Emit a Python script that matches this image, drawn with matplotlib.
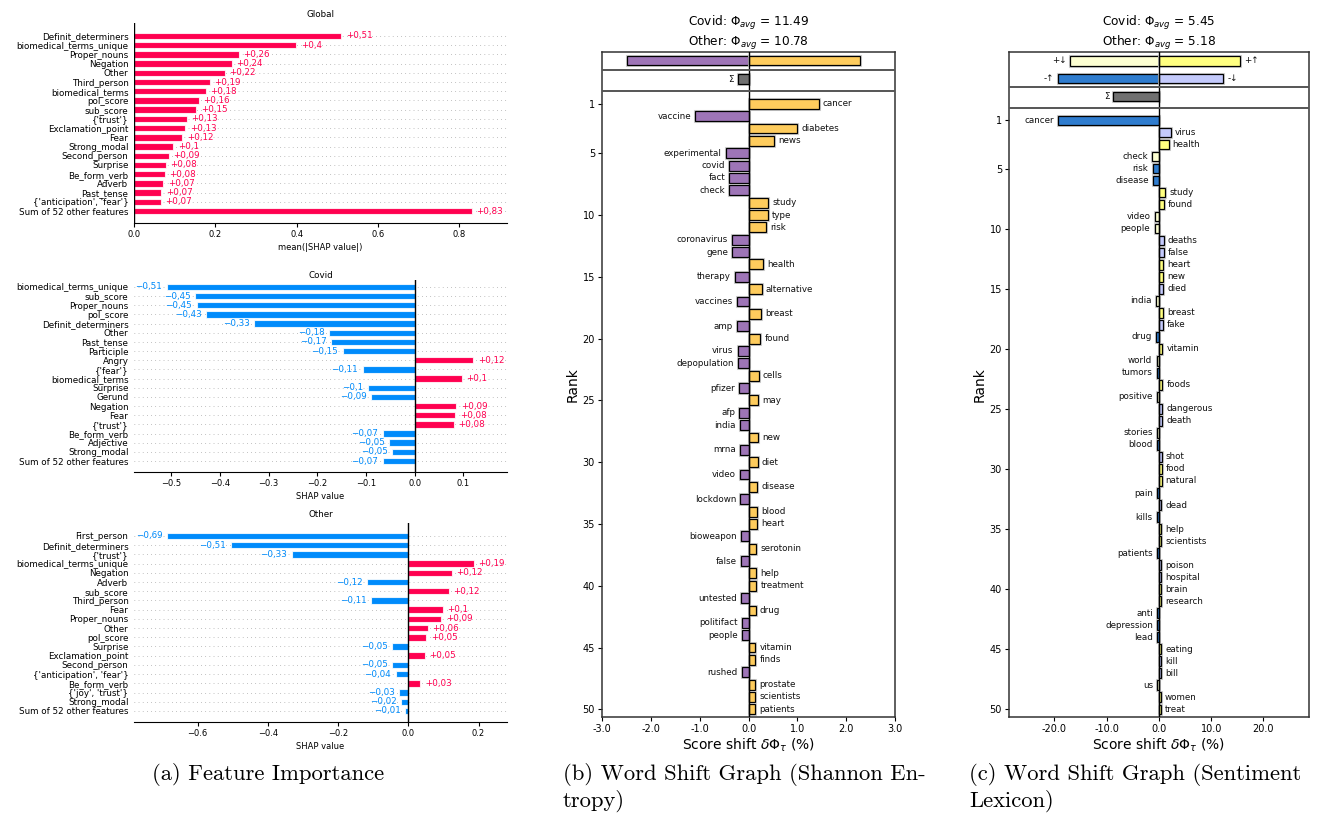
import matplotlib
matplotlib.use('Agg')
import matplotlib.pyplot as plt
import matplotlib.patheffects as pe
import numpy as np

plt.rcParams['font.family'] = ['DejaVu Sans']

W, H = 1322, 814
fig = plt.figure(figsize=(W / 100, H / 100), dpi=100)

# ---------------- data: panel (a) SHAP ----------------
global_features = ["Definit_determiners", "biomedical_terms_unique", "Proper_nouns", "Negation", "Other",
                   "Third_person", "biomedical_terms", "pol_score", "sub_score", "{'trust'}",
                   "Exclamation_point", "Fear", "Strong_modal", "Second_person", "Surprise",
                   "Be_form_verb", "Adverb", "Past_tense", "{'anticipation', 'fear'}",
                   "Sum of 52 other features"]
global_values = [0.510, 0.399, 0.258, 0.240, 0.223, 0.187, 0.176, 0.159, 0.153, 0.130,
                 0.126, 0.119, 0.097, 0.086, 0.078, 0.076, 0.072, 0.067, 0.066, 0.830]

covid_features = ["biomedical_terms_unique", "sub_score", "Proper_nouns", "pol_score", "Definit_determiners",
                  "Other", "Past_tense", "Participle", "Angry", "{'fear'}", "biomedical_terms", "Surprise",
                  "Gerund", "Negation", "Fear", "{'trust'}", "Be_form_verb", "Adjective", "Strong_modal",
                  "Sum of 52 other features"]
covid_values = [-0.510, -0.452, -0.448, -0.428, -0.330, -0.176, -0.171, -0.148, 0.121, -0.107,
                0.097, -0.096, -0.090, 0.086, 0.084, 0.080, -0.066, -0.052, -0.046, -0.066]

other_features = ["First_person", "Definit_determiners", "{'trust'}", "biomedical_terms_unique", "Negation",
                  "Adverb", "sub_score", "Third_person", "Fear", "Proper_nouns", "Other", "pol_score",
                  "Surprise", "Exclamation_point", "Second_person", "{'anticipation', 'fear'}",
                  "Be_form_verb", "{'joy', 'trust'}", "Strong_modal", "Sum of 52 other features"]
other_values = [-0.687, -0.506, -0.332, 0.187, 0.124, -0.118, 0.116, -0.107, 0.098, 0.094,
                0.056, 0.051, -0.046, 0.048, -0.046, -0.036, 0.034, -0.026, -0.020, -0.009]

# ---------------- data: panel (b) entropy word shift ----------------
entropy_words = ["cancer", "vaccine", "diabetes", "news", "experimental", "covid", "fact", "check", "study",
                 "type", "risk", "coronavirus", "gene", "health", "therapy", "alternative", "vaccines",
                 "breast", "amp", "found", "virus", "depopulation", "cells", "pfizer", "may", "afp", "india",
                 "new", "mrna", "diet", "video", "disease", "lockdown", "blood", "heart", "bioweapon",
                 "serotonin", "false", "help", "treatment", "untested", "drug", "politifact", "people",
                 "vitamin", "finds", "rushed", "prostate", "scientists", "patients"]
entropy_shifts = [1.44, -1.09, 0.99, 0.52, -0.46, -0.40, -0.39, -0.39, 0.40, 0.39, 0.35, -0.33, -0.33,
                  0.30, -0.27, 0.27, -0.24, 0.26, -0.24, 0.24, -0.22, -0.22, 0.21, -0.20, 0.20, -0.19,
                  -0.18, 0.19, -0.18, 0.19, -0.18, 0.18, -0.17, 0.17, 0.17, -0.16, 0.16, -0.16, 0.16,
                  0.16, -0.15, 0.15, -0.14, -0.14, 0.14, 0.14, -0.14, 0.14, 0.14, 0.14]
entropy_totals = [-2.49, 2.28]
entropy_sigma = -0.22
entropy_title = "Covid: $\\Phi_{avg}$ = 11.49\nOther: $\\Phi_{avg}$ = 10.78"

# ---------------- data: panel (c) sentiment word shift ----------------
sent_words = ["cancer", "virus", "health", "check", "risk", "disease", "study", "found", "video", "people",
              "deaths", "false", "heart", "new", "died", "india", "breast", "fake", "drug", "vitamin",
              "world", "tumors", "foods", "positive", "dangerous", "death", "stories", "blood", "shot",
              "food", "natural", "pain", "dead", "kills", "help", "scientists", "patients", "poison",
              "hospital", "brain", "research", "anti", "depression", "lead", "eating", "kill", "bill",
              "us", "women", "treat"]
sent_shifts = [-19.3, 2.23, 1.85, -1.34, -1.21, -1.15, 1.15, 0.89, -0.83, -0.83,
               0.89, 0.89, 0.83, 0.83, 0.83, -0.64, 0.77, 0.70, -0.51, 0.64,
               -0.45, -0.45, 0.64, -0.45, 0.64, 0.57, -0.38, -0.38, 0.51, 0.51,
               0.51, -0.38, 0.45, -0.38, 0.45, 0.45, -0.32, 0.45, 0.45, 0.45,
               0.45, -0.32, -0.32, -0.32, 0.38, 0.38, 0.38, -0.32, 0.38, 0.38]
sent_types = ["nu", "nd", "pu", "pd", "nu", "nu", "pu", "pu", "pd", "pd",
              "nd", "nd", "pu", "pu", "nd", "pd", "pu", "nd", "nu", "pu",
              "pd", "nu", "pu", "pd", "nd", "nd", "pd", "nu", "nd", "pu",
              "pu", "nu", "nd", "nu", "pu", "pu", "nu", "nd", "nd", "pu",
              "pu", "nu", "nu", "nu", "pu", "nd", "nd", "pd", "pu", "pu"]
sent_total_labels = ["+\u2193", "+\u2191", "-\u2191", "-\u2193"]
sent_total_types = ["pd", "pu", "nu", "nd"]
sent_total_values = [-16.9, 15.5, -19.3, 12.25]
sent_sigma = -8.68
sent_title = "Covid: $\\Phi_{avg}$ = 5.45\nOther: $\\Phi_{avg}$ = 5.18"

captions = ["(a) Feature Importance", "(b) Word Shift Graph (Shannon En-", "tropy)",
            "(c) Word Shift Graph (Sentiment", "Lexicon)"]

# ---------------- styles ----------------
RED = (1.0, 0.0, 0.3137)
BLUE = (0.0, 0.5451, 0.9843)
PURPLE = "#9E75B7"
YELLOW = "#FECC5D"
SENT_COL = {"pu": "#FFFF80", "pd": "#FDFFD2", "nu": "#2F7CCE", "nd": "#C4CAFC"}
GRAY = "#707070"
HALO = [pe.Stroke(linewidth=2.2, foreground="#cfcfcf"), pe.Normal()]


def px_axes(l, t, r, b):
    return fig.add_axes([l / W, 1 - b / H, (r - l) / W, (b - t) / H])


def fmt(v):
    s = f"{abs(v):.2f}".rstrip('0').rstrip('.').replace('.', ',')
    return ('+' if v >= 0 else '\u2212') + s


def shap_panel(ax, feats, vals, title, xlim, ylim, xticks, xlabel, fs=6.35):
    pos = np.arange(len(feats))
    for p in pos:
        ax.axhline(p, color="#888888", lw=0.5, dashes=(1, 5), zorder=-1)
    cols = [RED if v >= 0 else BLUE for v in vals]
    ax.barh(pos, vals, height=0.7, color=cols, edgecolor=(1, 1, 1, 0.8), lw=0.8, zorder=2)
    ax.axvline(0, color="black", lw=1, zorder=3)
    for p, v in zip(pos, vals):
        pos_side = v >= 0
        ax.annotate(fmt(v), xy=(v, p), xytext=(3.2 if pos_side else -3.2, 0), textcoords="offset points",
                    ha="left" if pos_side else "right", va="center", fontsize=fs,
                    color=RED if pos_side else BLUE)
    ax.set_yticks(pos)
    ax.set_yticklabels(feats, fontsize=fs)
    ax.tick_params(axis="y", length=0, pad=4)
    ax.set_xlim(*xlim)
    ax.set_ylim(*ylim)
    ax.set_xticks(xticks)
    ax.tick_params(axis="x", labelsize=6.0, length=3, width=0.8, pad=2)
    ax.set_xlabel(xlabel, fontsize=6.0, labelpad=3)
    ax.set_title(title, fontsize=fs, pad=4)
    for s in ["top", "right", "left"]:
        ax.spines[s].set_visible(False)
    ax.spines["bottom"].set_linewidth(0.8)


ax1 = px_axes(134, 23, 507, 223)
shap_panel(ax1, global_features, global_values, "Global", (0, 0.917), (20.3, -1.41),
           [0.0, 0.2, 0.4, 0.6, 0.8], "mean(|SHAP value|)")
ax2 = px_axes(134, 280, 507, 472)
shap_panel(ax2, covid_features, covid_values, "Covid", (-0.577, 0.19), (20.2, -0.76),
           [-0.5, -0.4, -0.3, -0.2, -0.1, 0.0, 0.1], "SHAP value")
ax2.title.set_position((0.5, 1.0))
ax2.set_title("Covid", fontsize=6.35, pad=1)
ax3 = px_axes(134, 523, 507, 722)
shap_panel(ax3, other_features, other_values, "Other", (-0.781, 0.281), (20.2, -1.41),
           [-0.6, -0.4, -0.2, 0.0, 0.2], "SHAP value")


def shift_frame(ax, xlim, ylim, xticks, xticklabels, title):
    ax.set_xlim(*xlim)
    ax.set_ylim(*ylim)
    ax.axvline(0, color="black", lw=1, zorder=3)
    ax.axhline(-1.75, color="#555555", lw=1.4, zorder=4)
    ax.axhline(0.0, color="#555555", lw=1.4, zorder=4)
    ax.set_yticks([1, 5, 10, 15, 20, 25, 30, 35, 40, 45, 50])
    ax.set_xticks(xticks)
    ax.set_xticklabels(xticklabels)
    ax.tick_params(labelsize=7, length=3, width=0.8, pad=2)
    for s in ax.spines.values():
        s.set_color("#333333")
        s.set_linewidth(1.1)
    ax.set_ylabel("Rank", fontsize=10, labelpad=2)
    ax.set_xlabel("Score shift $\\delta \\Phi_{\\tau}$ (%)", fontsize=10, labelpad=2)
    ax.set_title(title, fontsize=8.7, pad=2, linespacing=1.15)


def word_label(ax, text, v, y, fs=6.3):
    right = v >= 0
    ax.annotate(text, xy=(v, y), xytext=(3 if right else -3, 0), textcoords="offset points",
                ha="left" if right else "right", va="center", fontsize=fs, color="#111111")


# ---------------- panel (b) ----------------
axb = px_axes(602, 52, 895, 717)
ranks_b = np.arange(1, len(entropy_words) + 1)
cols_b = [YELLOW if v >= 0 else PURPLE for v in entropy_shifts]
axb.barh(ranks_b, entropy_shifts, height=0.8, color=cols_b, edgecolor="black", lw=0.9,
         path_effects=HALO, zorder=2)
for w, v, r in zip(entropy_words, entropy_shifts, ranks_b):
    word_label(axb, w, v, r)
axb.barh([-2.5, -2.5], entropy_totals, height=0.8, color=[PURPLE, YELLOW], edgecolor="black", lw=0.9,
         path_effects=HALO, zorder=2)
axb.barh([-1.0], [entropy_sigma], height=0.8, color=GRAY, edgecolor="black", lw=0.9,
         path_effects=HALO, zorder=2)
word_label(axb, "\u03a3", entropy_sigma, -1.0)
shift_frame(axb, (-3.0, 3.0), (50.62, -3.19), [-3, -2, -1, 0, 1, 2, 3],
            ["-3.0", "-2.0", "-1.0", "0.0", "1.0", "2.0", "3.0"], entropy_title)

# ---------------- panel (c) ----------------
axc = px_axes(1009, 52, 1309, 717)
ranks_c = np.arange(1, len(sent_words) + 1)
axc.barh(ranks_c, sent_shifts, height=0.8, color=[SENT_COL[t] for t in sent_types], edgecolor="black",
         lw=0.9, path_effects=HALO, zorder=2)
for w, v, r in zip(sent_words, sent_shifts, ranks_c):
    word_label(axc, w, v, r)
total_rows = [-3.97, -3.97, -2.5, -2.5]
axc.barh(total_rows, sent_total_values, height=0.8, color=[SENT_COL[t] for t in sent_total_types],
         edgecolor="black", lw=0.9, path_effects=HALO, zorder=2)
for lab, v, r in zip(sent_total_labels, sent_total_values, total_rows):
    word_label(axc, lab, v, r)
axc.barh([-1.0], [sent_sigma], height=0.8, color=GRAY, edgecolor="black", lw=0.9,
         path_effects=HALO, zorder=2)
word_label(axc, "\u03a3", sent_sigma, -1.0)
shift_frame(axc, (-28.65, 28.7), (50.64, -4.7), [-20, -10, 0, 10, 20],
            ["-20.0", "-10.0", "0.0", "10.0", "20.0"], sent_title)

# ---------------- captions ----------------
cap_fs = 16.3
fig.text(268 / W, 1 - 775 / H, captions[0], ha="center", va="center", fontfamily="cmr10", fontsize=cap_fs)
fig.text(563 / W, 1 - 775 / H, captions[1], ha="left", va="center", fontfamily="cmr10", fontsize=cap_fs)
fig.text(563 / W, 1 - 801 / H, captions[2], ha="left", va="center", fontfamily="cmr10", fontsize=cap_fs)
fig.text(969 / W, 1 - 775 / H, captions[3], ha="left", va="center", fontfamily="cmr10", fontsize=cap_fs)
fig.text(969 / W, 1 - 801 / H, captions[4], ha="left", va="center", fontfamily="cmr10", fontsize=cap_fs)

fig.savefig("out.png", dpi=100)
